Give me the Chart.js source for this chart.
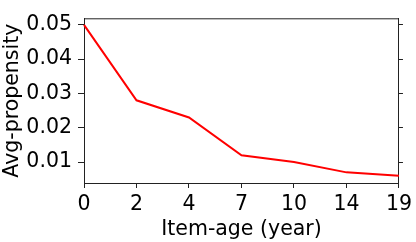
<!DOCTYPE html>
<html>
<head>
<meta charset="utf-8">
<script src="https://cdn.jsdelivr.net/npm/chart.js@4/dist/chart.umd.min.js"></script>
<style>
  html, body { margin: 0; padding: 0; background: #fff; }
  #wrap { width: 416px; height: 242px; }
</style>
</head>
<body>
<div id="wrap"><canvas id="chart"></canvas></div>
<script>
const itemAges = ['0', '2', '4', '7', '10', '14', '19'];
const avgPropensity = [0.050, 0.028, 0.023, 0.012, 0.010, 0.007, 0.006];
const yTicks = [0.01, 0.02, 0.03, 0.04, 0.05];

const axisColor = '#222';
const font = { family: 'DejaVu Sans', size: 20.5 };

// matplotlib-style closed frame: top edge
const topFrame = {
    id: 'topFrame',
    afterDraw(chart) {
        const { ctx, chartArea } = chart;
        ctx.save();
        ctx.strokeStyle = axisColor;
        ctx.lineWidth = 1;
        ctx.beginPath();
        ctx.moveTo(chartArea.left, chartArea.top + 0.5);
        ctx.lineTo(chartArea.right, chartArea.top + 0.5);
        ctx.stroke();
        ctx.restore();
    }
};

const setTicks = scale => { scale.ticks = yTicks.map(v => ({ value: v })); };

new Chart(document.getElementById('chart'), {
    type: 'line',
    data: {
        labels: itemAges,
        datasets: [{
            data: avgPropensity,
            borderColor: '#ff0000',
            borderWidth: 2,
            pointRadius: 0,
            fill: false,
            tension: 0
        }]
    },
    options: {
        responsive: true,
        maintainAspectRatio: false,
        animation: false,
        layout: { padding: { top: 1, right: 0, left: 0, bottom: 0 } },
        plugins: { legend: { display: false }, tooltip: { enabled: false } },
        scales: {
            x: {
                offset: false,
                grid: { drawOnChartArea: false, tickLength: 5, color: axisColor },
                border: { color: axisColor, width: 1 },
                ticks: { font: font, color: '#000', padding: 4, maxRotation: 0, autoSkip: false },
                title: { display: true, text: 'Item-age (year)', font: font, color: '#000', padding: { top: 0, bottom: 0 } },
                afterFit: scale => { scale.height = 59; }
            },
            y: {
                min: 0.0039,
                max: 0.0519,
                afterBuildTicks: setTicks,
                grid: { drawOnChartArea: false, tickLength: 6, color: axisColor },
                border: { color: axisColor, width: 1 },
                ticks: { font: font, color: '#000', padding: 6, callback: v => v.toFixed(2) },
                title: { display: true, text: 'Avg-propensity', font: font, color: '#000', padding: { top: 0, bottom: 0 } },
                afterFit: scale => { scale.width = 84; }
            },
            y2: {
                position: 'right',
                min: 0.0039,
                max: 0.0519,
                afterBuildTicks: setTicks,
                grid: { drawOnChartArea: false, tickLength: 4, color: axisColor },
                border: { color: axisColor, width: 1 },
                ticks: { display: false },
                afterFit: scale => { scale.width = 13; }
            }
        }
    },
    plugins: [topFrame]
});
</script>
</body>
</html>
